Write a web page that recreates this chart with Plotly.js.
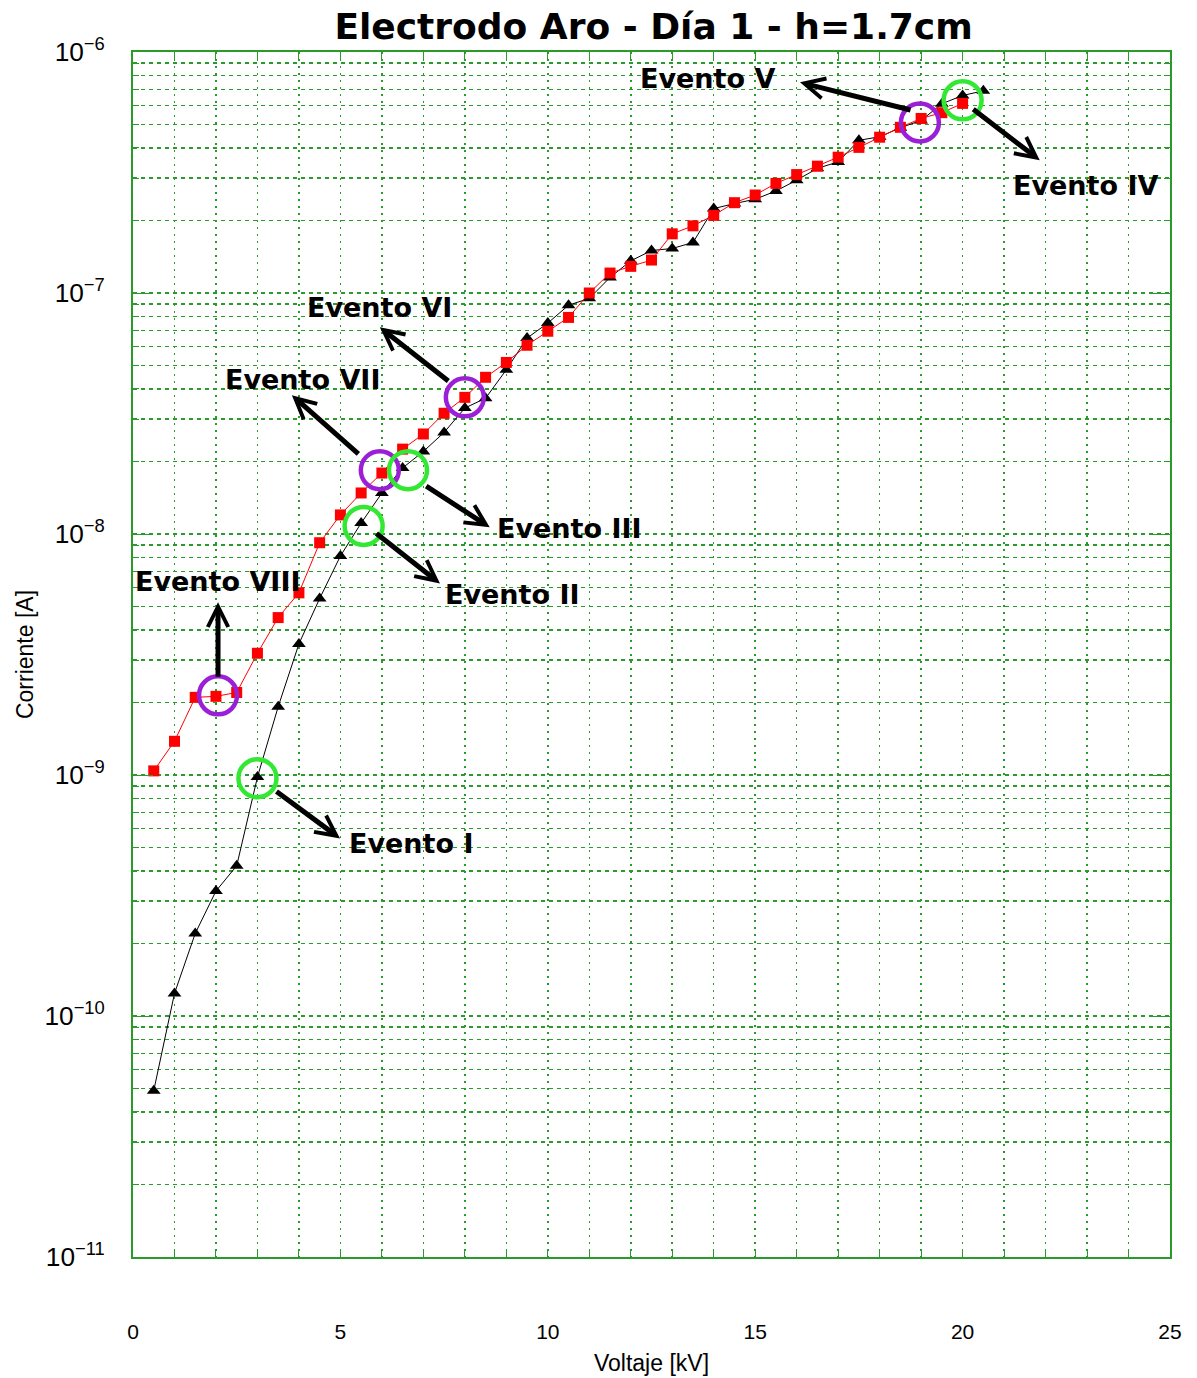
<!DOCTYPE html>
<html>
<head>
<meta charset="utf-8">
<script src="https://cdn.plot.ly/plotly-3.0.1.min.js"></script>
<style>html,body{margin:0;padding:0;background:#fff;}#chart{width:1197px;height:1378px;}</style>
</head>
<body>
<div id="chart"></div>
<script>
// Black series (triangles)
const voltBlack = [0.5,1,1.5,2,2.5,3,3.5,4,4.5,5,5.5,6,6.5,7,7.5,8,8.5,9,9.5,10,10.5,11,11.5,12,12.5,13,13.5,14,14.5,15,15.5,16,16.5,17,17.5,18,18.5,19,19.5,20,20.5];
const currBlack = [4.9e-11,1.24e-10,2.2e-10,3.3e-10,4.2e-10,9.8e-10,1.92e-9,3.5e-9,5.4e-9,8.1e-9,1.11e-8,1.48e-8,1.88e-8,2.2e-8,2.64e-8,3.33e-8,3.66e-8,4.8e-8,6.5e-8,7.5e-8,8.9e-8,9.5e-8,1.16e-7,1.36e-7,1.5e-7,1.53e-7,1.62e-7,2.24e-7,2.35e-7,2.45e-7,2.65e-7,2.94e-7,3.29e-7,3.5e-7,4.3e-7,4.45e-7,4.85e-7,5.2e-7,6.1e-7,6.6e-7,6.9e-7];
// Red series (squares)
const voltRed = [0.5,1,1.5,2,2.5,3,3.5,4,4.5,5,5.5,6,6.5,7,7.5,8,8.5,9,9.5,10,10.5,11,11.5,12,12.5,13,13.5,14,14.5,15,15.5,16,16.5,17,17.5,18,18.5,19,19.5,20];
const currRed = [1.04e-9,1.38e-9,2.1e-9,2.12e-9,2.2e-9,3.2e-9,4.5e-9,5.7e-9,9.2e-9,1.2e-8,1.48e-8,1.79e-8,2.25e-8,2.6e-8,3.17e-8,3.69e-8,4.47e-8,5.15e-8,6.07e-8,6.94e-8,7.92e-8,1.0e-7,1.21e-7,1.29e-7,1.37e-7,1.76e-7,1.9e-7,2.1e-7,2.37e-7,2.55e-7,2.85e-7,3.1e-7,3.36e-7,3.66e-7,4.02e-7,4.43e-7,4.87e-7,5.3e-7,5.6e-7,6.12e-7];
// Event markers
const purpleV = [2.05,5.95,8.0,18.97];
const purpleI = [2.14e-9,1.84e-8,3.69e-8,5.1e-7];
const greenV = [3.0,5.56,6.63,20.0];
const greenI = [9.7e-10,1.08e-8,1.84e-8,6.3e-7];
// Event labels: text, label x (kV), label log10(I), arrow tip x, tip log10(I), tail offset px
const evText = ["Evento I","Evento II","Evento III","Evento IV","Evento V","Evento VI","Evento VII","Evento VIII"];
const evLabelX = [5.15,7.47,8.72,21.17,12.17,4.14,2.16,0.0];
const evLabelLogY = [-9.283,-8.250,-7.976,-6.553,-6.109,-7.059,-7.358,-8.196];
const evTipX = [4.99,7.40,8.60,21.86,16.08,5.95,3.83,2.05];
const evTipLogY = [-9.263,-8.205,-7.972,-6.449,-6.126,-7.142,-7.424,-8.283];
const evTailDX = [-65,-65,-65,-68,112,70,68,0];
const evTailDY = [-48,-51,-42,-52,28,55,60,76];

const gridGreen = '#2a9a2a';
const traces = [
  {x: voltBlack, y: currBlack, mode: 'lines+markers', type: 'scatter',
   line: {color: '#000', width: 1}, marker: {symbol: 'triangle-up', size: 12, color: '#000'}},
  {x: voltRed, y: currRed, mode: 'lines+markers', type: 'scatter',
   line: {color: '#ff0000', width: 1}, marker: {symbol: 'square', size: 11, color: '#ff0000'}},
  {x: purpleV, y: purpleI, mode: 'markers', type: 'scatter',
   marker: {symbol: 'circle-open', size: 38, color: '#9a1fd6', line: {width: 4.5, color: '#9a1fd6'}}},
  {x: greenV, y: greenI, mode: 'markers', type: 'scatter',
   marker: {symbol: 'circle-open', size: 38, color: '#33e833', line: {width: 4.5, color: '#33e833'}}}
];

const annotations = [];
for (let i = 0; i < evText.length; i++) {
  annotations.push({x: evTipX[i], y: evTipLogY[i], xref: 'x', yref: 'y', text: '',
    showarrow: true, ax: evTailDX[i], ay: evTailDY[i], arrowhead: 5, arrowwidth: 5,
    arrowsize: 0.8, arrowcolor: '#000', standoff: 0, startstandoff: 0});
  annotations.push({x: evLabelX[i], y: evLabelLogY[i], xref: 'x', yref: 'y', text: '<b>' + evText[i] + '</b>',
    showarrow: false, xanchor: 'left', yanchor: 'middle',
    font: {family: 'DejaVu Sans', size: 27, color: '#000'}});
}

const layout = {
  width: 1197, height: 1378,
  margin: {l: 133, r: 27, t: 52, b: 121},
  paper_bgcolor: '#fff', plot_bgcolor: '#fff',
  showlegend: false,
  title: {text: '<b>Electrodo Aro - Día 1 - h=1.7cm</b>', x: 0.546, xanchor: 'center', y: 0.981, yanchor: 'middle',
    font: {family: 'DejaVu Sans', size: 36, color: '#000'}},
  xaxis: {range: [0, 25], dtick: 5, tick0: 0, showline: true, mirror: 'ticks', linecolor: gridGreen, linewidth: 2,
    ticks: 'inside', ticklen: 8, tickcolor: gridGreen, showgrid: true, gridcolor: gridGreen, gridwidth: 1.5, griddash: '2px,5px',
    zeroline: false, ticklabelstandoff: 55,
    minor: {dtick: 1, showgrid: true, gridcolor: gridGreen, gridwidth: 1.5, griddash: '2px,5px', ticks: 'inside', ticklen: 8, tickcolor: gridGreen},
    tickfont: {family: 'Liberation Sans', size: 21, color: '#000'},
    title: {text: 'Voltaje [kV]', font: {family: 'Liberation Sans', size: 23, color: '#000'}, standoff: 13}},
  yaxis: {type: 'log', range: [-11, -6], dtick: 1, exponentformat: 'power', showline: true, mirror: 'ticks',
    linecolor: gridGreen, linewidth: 2, ticks: 'inside', ticklen: 20, tickcolor: gridGreen,
    showgrid: true, gridcolor: gridGreen, gridwidth: 1.5, griddash: '4px,4px', zeroline: false, ticklabelstandoff: 22,
    minor: {dtick: 'D1', showgrid: true, gridcolor: gridGreen, gridwidth: 1.5, griddash: '4px,4px', ticks: 'inside', ticklen: 6, tickcolor: gridGreen},
    tickfont: {family: 'Liberation Sans', size: 21, color: '#000'},
    title: {text: 'Corriente [A]', font: {family: 'Liberation Sans', size: 23, color: '#000'}, standoff: 4}},
  annotations: annotations
};

Plotly.newPlot('chart', traces, layout, {displayModeBar: false, staticPlot: true});
</script>
</body>
</html>
